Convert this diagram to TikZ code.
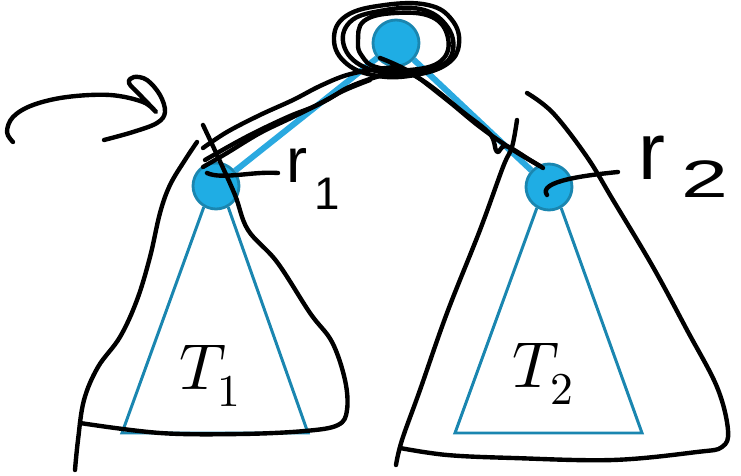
\documentclass[tikz,border=0pt]{standalone}
\usepackage{fontspec}
\usepackage{unicode-math}
\newfontfamily\handfont{Liberation Sans}
\usetikzlibrary{backgrounds}

\definecolor{nodeblue}{HTML}{1FADE4}
\definecolor{rimblue}{HTML}{1A86B0}
\definecolor{linkblue}{HTML}{2AA9E0}

\tikzset{
  vertex/.style={circle, fill=nodeblue, draw=rimblue, line width=1.6pt, inner sep=0pt, minimum size=0.92cm},
  link/.style={linkblue, line width=3.4pt},
  subtree/.style={rimblue, line width=1.7pt, line join=miter},
  hand/.style={black, line width=2.5pt, line cap=round, line join=round},
}

\begin{document}
\begin{tikzpicture}[x=0.02cm, y=-0.02cm]
    \useasboundingbox (0,0) rectangle (741,476);

    % Draw nodes
    \node[vertex] (root) at (396,43) {};
    \node[vertex] (r1) at (216,186) {};
    \node[vertex] (r2) at (549,187) {};

    % Edges behind the nodes
    \begin{scope}[on background layer]
        \draw[link] (root) -- (r1);
        \draw[link] (root) -- (r2);
    \end{scope}

    % Subtrees
    \coordinate (b1l) at (122,433);
    \coordinate (b1r) at (308,433);
    \coordinate (b2l) at (455,433);
    \coordinate (b2r) at (642,433);
    \draw[subtree] (r1.240) -- (b1l) -- (b1r) -- (r1.300);
    \draw[subtree] (r2.240) -- (b2l) -- (b2r) -- (r2.300);
    \node[anchor=base west, inner sep=0pt] (t1) at (179,390) {\fontsize{37}{40}\selectfont $T_1$};
    \node[anchor=base west, inner sep=0pt] (t2) at (512,388) {\fontsize{37}{40}\selectfont $T_2$};

    % Handwritten labels
    \node[anchor=base west, inner sep=0pt] (lab1) at (286,183)
        {\handfont\fontsize{36}{36}\selectfont r\hspace{4pt}\raisebox{-15pt}{\fontsize{26}{26}\selectfont 1}};
    \node[anchor=base west, inner sep=0pt] (lab2) at (638,180)
        {\handfont\fontsize{46}{46}\selectfont r\hspace{9pt}\raisebox{-10pt}{\fontsize{30}{30}\selectfont\scalebox{1.6}[1]{2}}};
    \coordinate (tick1) at (278,173);
    \coordinate (tick2) at (618,172);
    \draw[hand] (r1.center) ++(-9,-13) .. controls +(15,7) and +(-25,-2) .. (tick1);
    \draw[hand] (r2.center) ++(-2,8) .. controls +(-10,-14) and +(-30,3) .. (tick2);

    % Scribbles round the root
    \draw[hand] plot[smooth cycle, tension=0.7] coordinates {(334,40) (346,16) (385,5) (428,5) (452,20) (459,44) (447,64) (415,75) (378,76) (347,64)};
    \draw[hand] plot[smooth cycle, tension=0.7] coordinates {(344,46) (350,22) (380,11) (420,9) (446,25) (453,50) (438,67) (400,73) (364,67)};
    \draw[hand] plot[smooth cycle, tension=0.7] coordinates {(358,42) (364,21) (395,13) (432,17) (448,38) (441,61) (410,70) (376,67) (362,56)};

    % Traced edges
    \draw[hand] plot[smooth, tension=0.6] coordinates {(203,148) (227,132) (260,115) (293,100) (320,86) (347,75) (377,69) (400,67)};
    \draw[hand] plot[smooth, tension=0.6] coordinates {(205,160) (235,143) (260,130) (290,116) (315,106) (343,91) (370,80)};
    \draw[hand] plot[smooth, tension=0.6] coordinates {(203,167) (227,153) (260,133) (293,117) (327,100) (347,88) (373,78) (398,72)};
    \draw[hand] plot[smooth, tension=0.6] coordinates {(380,58) (410,72) (447,100) (480,127) (513,150) (540,166)};
    \draw[hand] plot[smooth, tension=0.6] coordinates {(392,64) (425,82) (463,112) (490,134) (497,152) (506,146) (530,160) (543,168)};

    % Outline of the left subtree
    \draw[hand] plot[smooth, tension=0.6] coordinates {(203,125) (218,157) (235,195) (248,230) (277,262) (310,313) (332,342) (345,380) (347,410) (338,425) (305,431) (240,434) (160,433) (80,423)};
    \draw[hand] plot[smooth, tension=0.6] coordinates {(197,142) (185,160) (170,185) (160,213) (150,257) (137,300) (120,337) (98,367) (84,400) (78,440) (75,470)};

    % Outline of the right subtree
    \draw[hand] plot[smooth, tension=0.6] coordinates {(527,93) (553,113) (587,157) (613,200) (653,267) (687,330) (717,387) (728,430) (722,447) (697,452) (613,460) (513,458) (447,455) (400,448)};
    \draw[hand] plot[smooth, tension=0.6] coordinates {(517,120) (512,147) (503,167) (480,230) (447,313) (420,390) (402,440) (396,465)};

    % Arrow on the left
    \draw[hand] plot[smooth, tension=0.6] coordinates {(13,142) (7,132) (13,117) (33,105) (67,97) (110,95) (143,102) (156,112) (140,95) (129,83) (134,77) (147,80) (160,95) (165,112) (157,123) (133,132) (104,140)};
\end{tikzpicture}
\end{document}
